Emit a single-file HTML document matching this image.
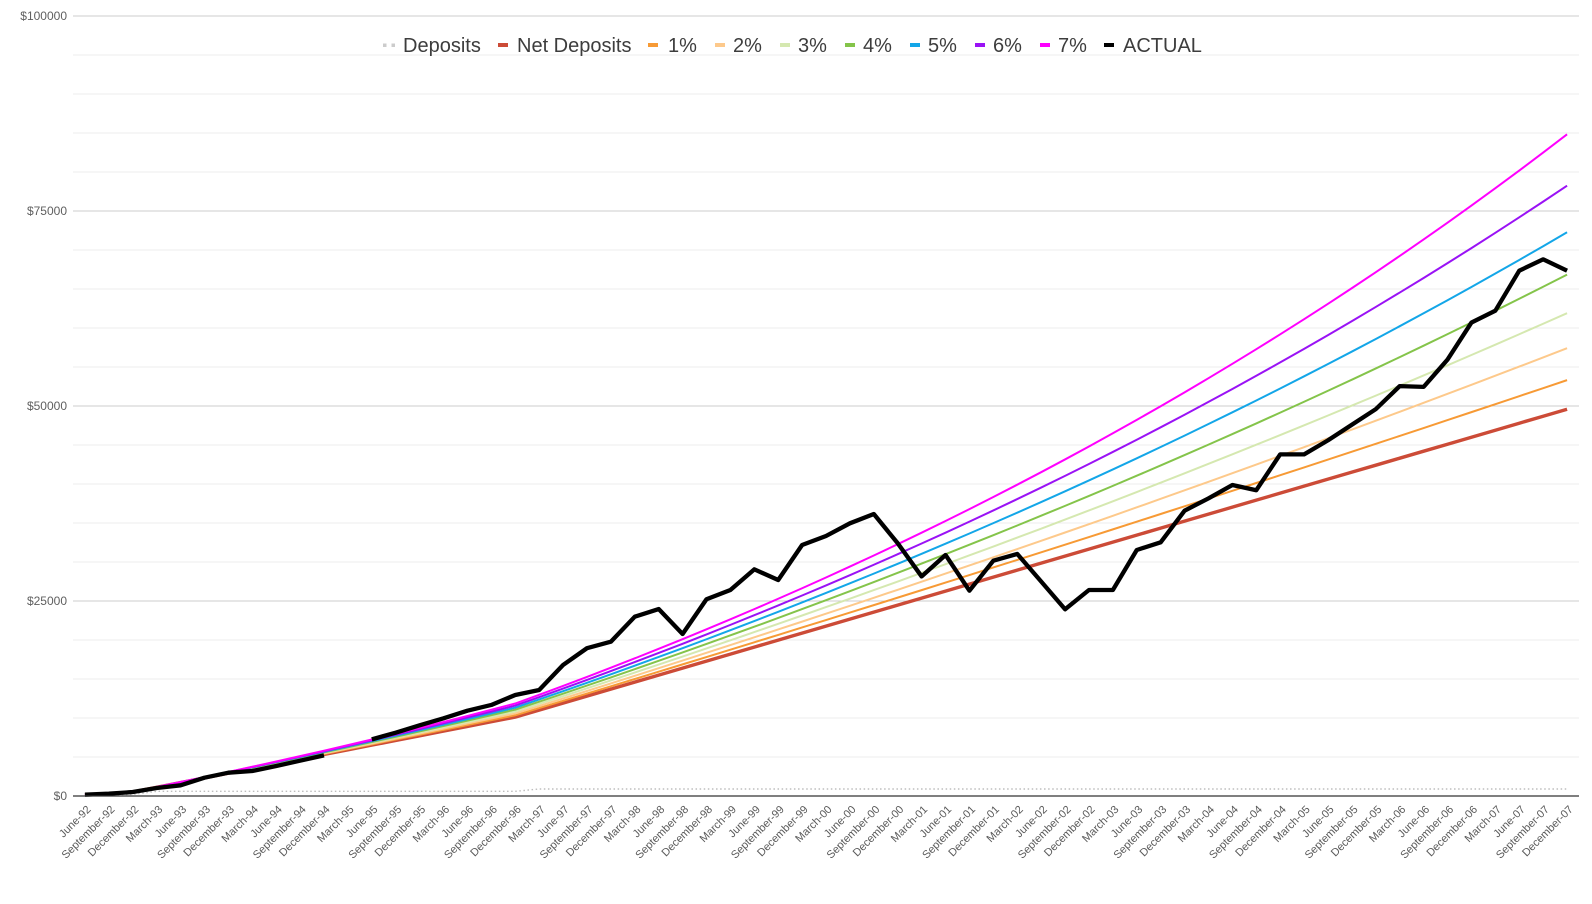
<!DOCTYPE html>
<html>
<head>
<meta charset="utf-8">
<style>
  html,body{margin:0;padding:0;background:#fff;}
  svg{display:block;}
  .yl{font-family:"Liberation Sans",Arial,sans-serif;font-size:12px;fill:#5f5f5f;text-anchor:end;}
  .xl{font-family:"Liberation Sans",Arial,sans-serif;font-size:11px;fill:#5a5a5a;text-anchor:end;}
  .lg{font-family:"Liberation Sans",Arial,sans-serif;font-size:20px;fill:#3d3d3d;}
</style>
</head>
<body>
<svg id="chart" width="1592" height="904" viewBox="0 0 1592 904" xmlns="http://www.w3.org/2000/svg">
  <rect width="1592" height="904" fill="#fff"/>
  <!-- minor gridlines -->
  <g stroke="#ececec" stroke-width="1">
    <line x1="73" x2="1579" y1="757" y2="757"/><line x1="73" x2="1579" y1="718" y2="718"/>
    <line x1="73" x2="1579" y1="679" y2="679"/><line x1="73" x2="1579" y1="640" y2="640"/>
    <line x1="73" x2="1579" y1="562" y2="562"/><line x1="73" x2="1579" y1="523" y2="523"/>
    <line x1="73" x2="1579" y1="484" y2="484"/><line x1="73" x2="1579" y1="445" y2="445"/>
    <line x1="73" x2="1579" y1="367" y2="367"/><line x1="73" x2="1579" y1="328" y2="328"/>
    <line x1="73" x2="1579" y1="289" y2="289"/><line x1="73" x2="1579" y1="250" y2="250"/>
    <line x1="73" x2="1579" y1="172" y2="172"/><line x1="73" x2="1579" y1="133" y2="133"/>
    <line x1="73" x2="1579" y1="94" y2="94"/><line x1="73" x2="1579" y1="55" y2="55"/>
  </g>
  <!-- major gridlines -->
  <g stroke="#cccccc" stroke-width="1">
    <line x1="73" x2="1579" y1="601" y2="601"/>
    <line x1="73" x2="1579" y1="406" y2="406"/>
    <line x1="73" x2="1579" y1="211" y2="211"/>
    <line x1="73" x2="1579" y1="16" y2="16"/>
  </g>
  <!-- y labels -->
  <text class="yl" x="67" y="20">$100000</text>
  <text class="yl" x="67" y="215">$75000</text>
  <text class="yl" x="67" y="410">$50000</text>
  <text class="yl" x="67" y="605">$25000</text>
  <text class="yl" x="67" y="800">$0</text>

  <!-- series -->
  <path id="sDep" fill="none" stroke="#bdbdbd" stroke-width="1.4" stroke-dasharray="1.5 2.6"/>
  <path id="sNet" fill="none" stroke="#cc4b37" stroke-width="3.4" stroke-linejoin="round"/>
  <path id="s1" fill="none" stroke="#f79a35" stroke-width="2"/>
  <path id="s2" fill="none" stroke="#fdc98b" stroke-width="2"/>
  <path id="s3" fill="none" stroke="#d5e8b0" stroke-width="2"/>
  <path id="s4" fill="none" stroke="#84c44a" stroke-width="2"/>
  <path id="s5" fill="none" stroke="#13a6e8" stroke-width="2"/>
  <path id="s6" fill="none" stroke="#9a12f5" stroke-width="2"/>
  <path id="s7" fill="none" stroke="#ff00ff" stroke-width="2"/>
  <path id="sAct" fill="none" stroke="#000" stroke-width="4.3" stroke-linejoin="round"/>

  <!-- baseline -->
  <line x1="73" x2="1579" y1="796" y2="796" stroke="#333" stroke-width="1.3"/>

  <!-- legend -->
  <rect x="383" y="43.5" width="3.5" height="3.5" fill="#cccccc"/>
  <rect x="391.5" y="43.5" width="3.5" height="3.5" fill="#cccccc"/>
  <text class="lg" x="403" y="52">Deposits</text>
  <rect x="498" y="43" width="10" height="4" fill="#cc4b37"/>
  <text class="lg" x="517" y="52">Net Deposits</text>
  <rect x="648" y="43" width="10" height="4" fill="#f79a35"/>
  <text class="lg" x="668" y="52">1%</text>
  <rect x="715" y="43" width="10" height="4" fill="#fdc98b"/>
  <text class="lg" x="733" y="52">2%</text>
  <rect x="780" y="43" width="10" height="4" fill="#d5e8b0"/>
  <text class="lg" x="798" y="52">3%</text>
  <rect x="845" y="43" width="10" height="4" fill="#84c44a"/>
  <text class="lg" x="863" y="52">4%</text>
  <rect x="910" y="43" width="10" height="4" fill="#13a6e8"/>
  <text class="lg" x="928" y="52">5%</text>
  <rect x="975" y="43" width="10" height="4" fill="#9a12f5"/>
  <text class="lg" x="993" y="52">6%</text>
  <rect x="1040" y="43" width="10" height="4" fill="#ff00ff"/>
  <text class="lg" x="1058" y="52">7%</text>
  <rect x="1104" y="43" width="10" height="4" fill="#000"/>
  <text class="lg" x="1123" y="52">ACTUAL</text>

  <!-- x labels -->
  <g class="xl">
    <text transform="translate(91.45,810) rotate(-45)">June-92</text>
    <text transform="translate(115.36,810) rotate(-45)">September-92</text>
    <text transform="translate(139.26,810) rotate(-45)">December-92</text>
    <text transform="translate(163.17,810) rotate(-45)">March-93</text>
    <text transform="translate(187.07,810) rotate(-45)">June-93</text>
    <text transform="translate(210.98,810) rotate(-45)">September-93</text>
    <text transform="translate(234.88,810) rotate(-45)">December-93</text>
    <text transform="translate(258.79,810) rotate(-45)">March-94</text>
    <text transform="translate(282.69,810) rotate(-45)">June-94</text>
    <text transform="translate(306.6,810) rotate(-45)">September-94</text>
    <text transform="translate(330.5,810) rotate(-45)">December-94</text>
    <text transform="translate(354.41,810) rotate(-45)">March-95</text>
    <text transform="translate(378.31,810) rotate(-45)">June-95</text>
    <text transform="translate(402.22,810) rotate(-45)">September-95</text>
    <text transform="translate(426.12,810) rotate(-45)">December-95</text>
    <text transform="translate(450.03,810) rotate(-45)">March-96</text>
    <text transform="translate(473.93,810) rotate(-45)">June-96</text>
    <text transform="translate(497.84,810) rotate(-45)">September-96</text>
    <text transform="translate(521.74,810) rotate(-45)">December-96</text>
    <text transform="translate(545.65,810) rotate(-45)">March-97</text>
    <text transform="translate(569.55,810) rotate(-45)">June-97</text>
    <text transform="translate(593.46,810) rotate(-45)">September-97</text>
    <text transform="translate(617.36,810) rotate(-45)">December-97</text>
    <text transform="translate(641.27,810) rotate(-45)">March-98</text>
    <text transform="translate(665.17,810) rotate(-45)">June-98</text>
    <text transform="translate(689.08,810) rotate(-45)">September-98</text>
    <text transform="translate(712.98,810) rotate(-45)">December-98</text>
    <text transform="translate(736.89,810) rotate(-45)">March-99</text>
    <text transform="translate(760.79,810) rotate(-45)">June-99</text>
    <text transform="translate(784.7,810) rotate(-45)">September-99</text>
    <text transform="translate(808.6,810) rotate(-45)">December-99</text>
    <text transform="translate(832.51,810) rotate(-45)">March-00</text>
    <text transform="translate(856.41,810) rotate(-45)">June-00</text>
    <text transform="translate(880.32,810) rotate(-45)">September-00</text>
    <text transform="translate(904.22,810) rotate(-45)">December-00</text>
    <text transform="translate(928.13,810) rotate(-45)">March-01</text>
    <text transform="translate(952.03,810) rotate(-45)">June-01</text>
    <text transform="translate(975.94,810) rotate(-45)">September-01</text>
    <text transform="translate(999.84,810) rotate(-45)">December-01</text>
    <text transform="translate(1023.75,810) rotate(-45)">March-02</text>
    <text transform="translate(1047.65,810) rotate(-45)">June-02</text>
    <text transform="translate(1071.56,810) rotate(-45)">September-02</text>
    <text transform="translate(1095.46,810) rotate(-45)">December-02</text>
    <text transform="translate(1119.37,810) rotate(-45)">March-03</text>
    <text transform="translate(1143.27,810) rotate(-45)">June-03</text>
    <text transform="translate(1167.18,810) rotate(-45)">September-03</text>
    <text transform="translate(1191.08,810) rotate(-45)">December-03</text>
    <text transform="translate(1214.99,810) rotate(-45)">March-04</text>
    <text transform="translate(1238.89,810) rotate(-45)">June-04</text>
    <text transform="translate(1262.8,810) rotate(-45)">September-04</text>
    <text transform="translate(1286.7,810) rotate(-45)">December-04</text>
    <text transform="translate(1310.61,810) rotate(-45)">March-05</text>
    <text transform="translate(1334.51,810) rotate(-45)">June-05</text>
    <text transform="translate(1358.42,810) rotate(-45)">September-05</text>
    <text transform="translate(1382.32,810) rotate(-45)">December-05</text>
    <text transform="translate(1406.23,810) rotate(-45)">March-06</text>
    <text transform="translate(1430.13,810) rotate(-45)">June-06</text>
    <text transform="translate(1454.04,810) rotate(-45)">September-06</text>
    <text transform="translate(1477.94,810) rotate(-45)">December-06</text>
    <text transform="translate(1501.85,810) rotate(-45)">March-07</text>
    <text transform="translate(1525.75,810) rotate(-45)">June-07</text>
    <text transform="translate(1549.66,810) rotate(-45)">September-07</text>
    <text transform="translate(1573.56,810) rotate(-45)">December-07</text>
  </g>
</svg>
<script>
(function(){
  var N=63;
  function X(i){return 84.95+i*23.905;}
  function Y(v){return 796-v*0.0078;}
  var dep=[];
  for(var i=0;i<N;i++){
    var d;
    if(i===0)d=170;else if(i===1)d=140;else if(i===2)d=210;
    else if(i<=18)d=600;else d=897;
    dep.push(d);
  }
  function pathFrom(vals){
    var d="",pen=false;
    for(var i=0;i<vals.length;i++){
      var v=vals[i];
      if(v===null){pen=false;continue;}
      d+=(pen?"L":"M")+X(i).toFixed(2)+" "+Y(v).toFixed(2)+" ";
      pen=true;
    }
    return d;
  }
  document.getElementById("sDep").setAttribute("d",pathFrom(dep));
  var net=[],s=0;
  for(var i=0;i<N;i++){s+=dep[i];net.push(s);}
  document.getElementById("sNet").setAttribute("d",pathFrom(net));
  for(var r=1;r<=7;r++){
    var g1=Math.pow(1+r/100,0.25), g2=1+r/400;
    var g=0.3*g1+0.7*g2,V=0,arr=[];
    for(var i=0;i<N;i++){V=(V+dep[i])*g;arr.push(V);}
    document.getElementById("s"+r).setAttribute("d",pathFrom(arr));
  }
  var act=[170,300,510,1030,1370,2350,2990,3200,3850,4530,5210,null,
    7260,8120,9060,9960,10940,11670,12950,13590,16790,18950,19780,22990,23970,20770,
    25220,26410,29060,27690,32180,33330,34960,36150,32400,28150,30900,26320,30170,
    31030,27500,23940,26410,26410,31540,32520,36580,38160,39870,39200,43800,43800,
    45600,47600,49600,52550,52450,55950,60700,62220,67350,68800,67346];
  document.getElementById("sAct").setAttribute("d",pathFrom(act));
})();
</script>
</body>
</html>
